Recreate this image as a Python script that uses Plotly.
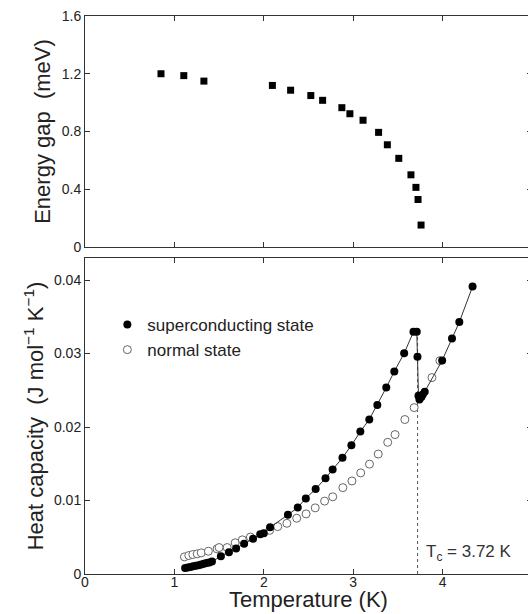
import plotly.graph_objects as go

# energy gap vs temperature (top panel)
gap_t = [0.85, 1.105, 1.33, 2.096, 2.30, 2.526, 2.658, 2.873, 2.963, 3.11,
         3.284, 3.382, 3.51, 3.646, 3.702, 3.725, 3.759]
gap_mev = [1.20, 1.187, 1.149, 1.119, 1.086, 1.049, 1.016, 0.965, 0.923, 0.878,
           0.794, 0.708, 0.614, 0.50, 0.413, 0.329, 0.152]

# heat capacity, superconducting state (filled, joined)
sc_t = [1.12, 1.15, 1.18, 1.21, 1.24, 1.27, 1.30, 1.33, 1.36, 1.39, 1.42,
        1.52, 1.61, 1.69, 1.78, 1.88, 1.96, 2.00, 2.07, 2.27, 2.38, 2.47,
        2.58, 2.69, 2.77, 2.88, 2.98, 3.08, 3.18, 3.27, 3.37, 3.46, 3.57,
        3.674, 3.711, 3.719, 3.73, 3.741, 3.763, 3.778, 3.80,
        3.995, 4.105, 4.187, 4.335]
sc_c = [0.0008, 0.00088, 0.00096, 0.00104, 0.00112, 0.0012, 0.00129, 0.00138,
        0.00148, 0.00158, 0.00169, 0.00242, 0.00297, 0.00347, 0.00411, 0.0048,
        0.0054, 0.00553, 0.00635, 0.00805, 0.00905, 0.01029, 0.01157, 0.01303,
        0.01422, 0.01582, 0.01751, 0.01938, 0.02103, 0.02299, 0.02537, 0.02757,
        0.03003, 0.03295, 0.03298, 0.02957, 0.02426, 0.02375, 0.02407, 0.02444,
        0.02481, 0.02906, 0.03204, 0.03428, 0.03911]

# heat capacity, normal state (open circles)
n_t = [1.112, 1.161, 1.206, 1.255, 1.30, 1.38, 1.477, 1.50, 1.59, 1.68, 1.76,
       1.85, 2.066, 2.156, 2.258, 2.368, 2.473, 2.575, 2.68, 2.771, 2.884,
       2.986, 3.084, 3.182, 3.28, 3.386, 3.468, 3.578, 3.682, 3.881, 3.97]
n_c = [0.00233, 0.00251, 0.00265, 0.00274, 0.00288, 0.0031, 0.00342, 0.0036,
       0.0036, 0.00425, 0.00465, 0.00503, 0.00594, 0.00645, 0.0069, 0.00759,
       0.00818, 0.009, 0.00992, 0.01051, 0.01175, 0.01266, 0.01376, 0.01495,
       0.01632, 0.01792, 0.01897, 0.02102, 0.02264, 0.02673, 0.02903]

TC = 3.72
TC_PEAK = 0.033

FONT = "Liberation Sans, Arial, sans-serif"
H = 614

fig = go.Figure()

fig.add_trace(go.Scatter(x=gap_t, y=gap_mev, mode="markers", xaxis="x", yaxis="y",
                         marker=dict(symbol="square", size=7, color="black"),
                         showlegend=False))

fig.add_trace(go.Scatter(x=n_t, y=n_c, mode="markers", xaxis="x2", yaxis="y2",
                         name="normal state", legendgroup="n",
                         marker=dict(symbol="circle", size=8, color="white",
                                     line=dict(color="#666", width=1))))

fig.add_trace(go.Scatter(x=sc_t, y=sc_c, mode="lines", xaxis="x2", yaxis="y2",
                         line=dict(color="#333", width=1), showlegend=False))
fig.add_trace(go.Scatter(x=sc_t, y=sc_c, mode="markers", xaxis="x2", yaxis="y2",
                         name="superconducting state", legendgroup="sc",
                         marker=dict(symbol="circle", size=8, color="black")))

axis_common = dict(showline=True, linecolor="#333", linewidth=1, mirror="ticks",
                   ticks="inside", ticklen=5, tickcolor="#333", showgrid=False,
                   zeroline=False, automargin=False,
                   tickfont=dict(size=14, color="#222"))

# figure is a few px wider than the window so the right frame is cut off, as in the original
fig.update_layout(
    width=532, height=H,
    margin=dict(l=85, r=0, t=0, b=0),
    paper_bgcolor="white", plot_bgcolor="white",
    font=dict(family=FONT, color="#222"),
    xaxis=dict(domain=[0, 1], range=[0, 5], dtick=1, showticklabels=False,
               anchor="y", **axis_common),
    yaxis=dict(domain=[1 - 247 / H, 1 - 16 / H], range=[0, 1.6], dtick=0.4,
               anchor="x",
               title=dict(text="Energy gap\u00a0\u00a0(meV)", font=dict(size=22),
                          standoff=5),
               **axis_common),
    xaxis2=dict(domain=[0, 1], range=[0, 5], dtick=1, anchor="y2",
                ticklabelstandoff=-5,
                **axis_common),
    yaxis2=dict(domain=[1 - 574 / H, 1 - 258 / H], range=[0, 0.043], dtick=0.01,
                anchor="x2",
                title=dict(text="Heat capacity\u00a0\u00a0(J mol<sup>\u22121</sup> K<sup>\u22121</sup>)",
                           font=dict(size=22), standoff=4),
                **axis_common),
    legend=dict(x=0.05, y=1 - 307 / H, xanchor="left", yanchor="top",
                traceorder="reversed", tracegroupgap=12,
                bgcolor="rgba(0,0,0,0)", font=dict(size=17, color="#222")),
    shapes=[dict(type="line", xref="x2", yref="y2", x0=TC, x1=TC, y0=0, y1=TC_PEAK,
                 line=dict(color="#555", width=1, dash="dot"), layer="below")],
    annotations=[
        dict(xref="x2", yref="y2", x=TC + 0.07, y=0.0029, xanchor="left",
             yanchor="middle", showarrow=False, text="T<sub>c</sub> = 3.72 K",
             font=dict(size=17, color="#333")),
        # x title kept flush with the bottom edge, as in the original
        dict(xref="paper", yref="paper", x=0.5, y=0, xanchor="center",
             yanchor="bottom", showarrow=False, text="Temperature (K)",
             font=dict(size=22, color="#222")),
    ],
)

# the page has a default 8px body margin; drop it so the figure sits at 0,0
fig.write_html("out.html", config={"displayModeBar": False},
               post_script="document.body.style.margin='0';document.body.style.overflow='hidden';")
